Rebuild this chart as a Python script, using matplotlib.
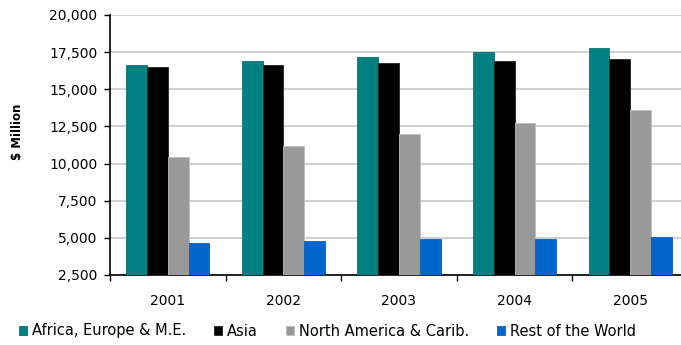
import matplotlib.pyplot as plt
import numpy as np

# Data ($ Million)
years = ['2001', '2002', '2003', '2004', '2005']
series_names = ['Africa, Europe & M.E.', 'Asia', 'North America & Carib.', 'Rest of the World']
africa_europe_me = [16650, 16880, 17150, 17530, 17780]
asia = [16520, 16650, 16790, 16900, 17020]
north_america = [10470, 11200, 11970, 12730, 13630]
rest_of_world = [4660, 4770, 4940, 4950, 5040]

colors = ['#008080', '#000000', '#999999', '#0066CC']
edges = ['#0a6f6f', '#222222', '#bdbdbd', '#0a5cb0']

fig = plt.figure(figsize=(6.81, 3.45), dpi=100)
ax = fig.add_axes([110 / 681, 70 / 345, 578 / 681, 260 / 345])

x = np.arange(len(years))
width = 0.18
all_series = [africa_europe_me, asia, north_america, rest_of_world]
for i, (vals, name) in enumerate(zip(all_series, series_names)):
    ax.bar(x + (i - 1.5) * width, vals, width, bottom=0, color=colors[i],
           edgecolor=edges[i], linewidth=0.6, label=name, zorder=3)

ax.set_ylim(2500, 20000)
ax.set_xlim(-0.5, 4.5)
ax.set_yticks(np.arange(2500, 20001, 2500))
ax.set_yticklabels([f'{v:,}' for v in range(2500, 20001, 2500)], fontsize=10)
ax.yaxis.grid(True, color='#c8c8c8', linewidth=1.2, zorder=0)
ax.set_axisbelow(True)

ax.set_xticks(x)
ax.set_xticklabels(years, fontsize=10)
ax.tick_params(axis='x', which='major', length=0, pad=14)
ax.set_xticks(np.arange(-0.5, 5.0, 1.0), minor=True)
ax.tick_params(axis='x', which='minor', length=4, width=1, direction='out')
ax.tick_params(axis='y', length=4, width=1, direction='out', pad=5)

for side in ['top', 'right']:
    ax.spines[side].set_visible(False)
ax.spines['left'].set_linewidth(1.2)
ax.spines['bottom'].set_linewidth(1.2)

ax.set_ylabel('$ Million', fontsize=8.5, fontweight='bold')
ax.yaxis.set_label_coords(-0.148, 0.55)

fig.legend(loc='center left', bbox_to_anchor=(13 / 681, 1 - 331 / 345), ncol=4,
           frameon=False, fontsize=10.5, handlelength=0.55, handleheight=0.6,
           handletextpad=0.35, columnspacing=1.9, borderaxespad=0)

fig.savefig('out.png', dpi=100)
